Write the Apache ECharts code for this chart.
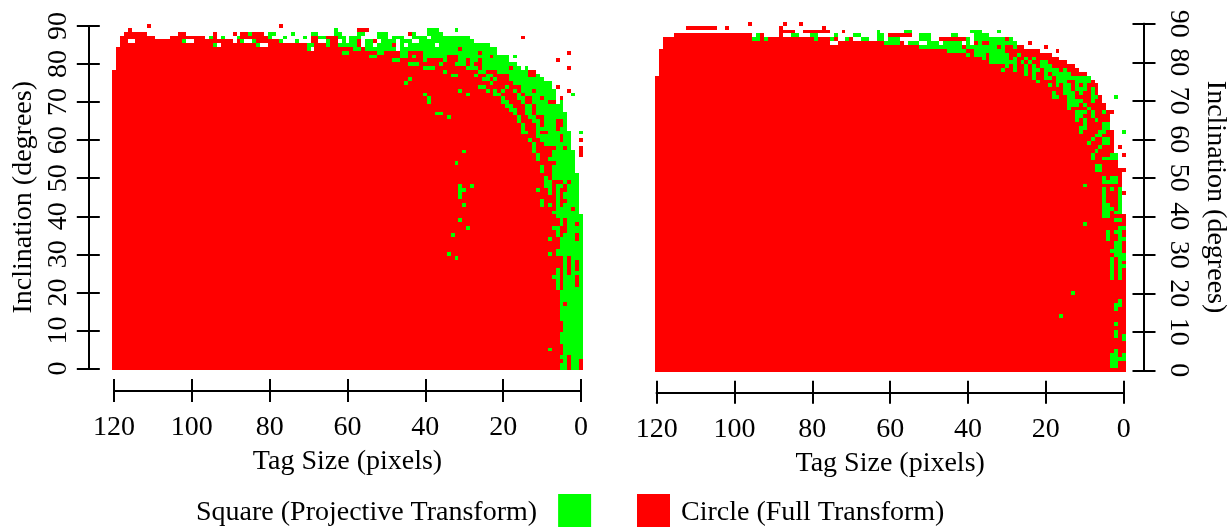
<!DOCTYPE html>
<html>
<head>
<meta charset="utf-8">
<style>html,body{margin:0;padding:0;background:#fff}#c{width:1231px;height:528px}</style>
<script src="https://cdn.jsdelivr.net/npm/echarts@6/dist/echarts.min.js"></script>
</head>
<body>
<div id="c"></div>
<script>
const xTicksMax = 120, yTicksMax = 90;
const squareName = 'Square (Projective Transform)';
const circleName = 'Circle (Full Transform)';

// winner per (inclination, tag size): solid red up to redEnd, green band to greenEnd, for inclination 0..84
const leftRedEnd = [6,6,6,6,5,5,5,6,6,6,5,5,5,6,6,6,6,6,6,6,6,7,7,7,7,7,7,5,5,5,7,7,6,6,6,7,7,7,6,6,7,8,7,7,7,7,9,9,10,10,10,8,8,8,7,9,8,8,9,10,11,12,12,12,12,13,14,15,15,15,13,13,15,16,16,18,19,19,27,30,33,32,41,41,59];
const leftGreenEnd = [0,0,0,0,0,0,0,0,0,0,0,0,0,0,0,0,0,0,0,0,0,0,0,0,0,0,0,0,0,0,0,0,0,0,0,0,0,0,0,0,0,1,1,1,1,1,1,1,1,1,1,1,2,2,2,2,2,2,3,3,3,3,3,4,4,4,4,4,5,5,9,7,7,7,8,8,10,11,14,16,17,19,19,22,22];
const leftStart = [[78,120],[84,119]];
// [incLow, incHigh, sizeHigh, sizeLow]
const leftGreen = [
[5,5,8,8],[24,24,7,7],[30,30,8,8],[29,29,32,32],[30,30,34,34],[35,35,33,33],[37,37,29,29],[39,39,31,31],[43,43,30,30],[45,48,31,31],[47,47,30,30],[48,48,28,28],[54,54,32,32],[57,57,30,30],
[34,34,8,8],[37,37,7,7],[43,44,10,10],[43,43,8,8],[47,47,11,11],[52,53,10,10],[55,56,11,11],[57,59,12,12],[60,60,13,13],[62,62,15,14],[63,64,15,15],[65,66,16,16],[62,62,0,0],
[66,66,34,34],[67,67,37,36],[67,67,17,17],[68,68,18,17],[69,69,19,18],[70,71,39,39],[70,70,20,19],[70,70,15,15],[70,70,5,5],[71,71,20,20],[71,71,16,15],
[72,72,40,40],[72,72,29,29],[72,72,22,21],[72,72,16,16],[72,72,2,2],[73,73,31,31],[73,73,24,24],[73,73,22,22],[73,73,20,20],[73,73,17,17],
[74,74,26,25],[74,74,19,19],[75,75,45,45],[75,75,23,23],[76,76,44,44],[76,76,25,24],[76,76,22,22],[77,77,33,32],[77,77,27,27],[77,77,24,23],[78,78,35,35],
[79,79,40,38],[79,79,14,14],[80,80,44,42],[80,80,36,36],[81,81,48,47],[81,81,40,40],[81,81,35,35],[82,82,54,53],[82,82,46,45],[82,82,43,43],[82,82,17,17],[83,83,61,60],[83,83,52,51],[83,83,46,45],[84,84,70,70],
[85,85,94,94],[85,85,83,83],[85,85,70,69],[85,85,65,65],[85,85,62,58],[85,85,55,54],[85,85,52,49],[85,85,46,46],[85,85,44,38],[85,85,36,25],[85,85,24,24],
[86,86,102,102],[86,86,87,87],[86,86,84,84],[86,86,77,77],[86,86,73,73],[86,86,65,65],[86,86,61,61],[86,86,59,58],[86,86,55,54],[86,86,51,48],[86,86,46,44],[86,86,41,28],
[87,87,95,95],[87,87,92,92],[87,87,88,88],[87,87,80,80],[87,87,76,76],[87,87,71,71],[87,87,67,66],[87,87,62,61],[87,87,59,57],[87,87,52,50],[87,87,48,46],[87,87,43,40],[87,87,38,29],
[88,88,85,85],[88,88,80,79],[88,88,74,74],[88,88,69,68],[88,88,63,62],[88,88,57,56],[88,88,52,50],[88,88,43,43],[88,88,39,36],
[89,89,63,63],[89,89,39,37],[89,89,32,32]
];
const leftRed = [
[0,3,3,3],[0,2,0,0],[2,2,5,5],[17,17,4,4],[21,26,5,5],[25,29,3,3],[26,28,1,1],[22,24,1,1],[35,35,5,5],[34,35,1,1],[36,37,5,4],[38,39,4,4],[38,38,1,1],[42,42,2,2],[43,43,5,5],[44,44,5,4],[45,45,5,5],[46,46,7,7],[46,46,5,5],[47,47,7,7],[47,47,5,4],[48,48,7,7],[48,48,4,4],[49,49,7,5],[49,49,3,3],[50,50,8,8],[56,58,0,0],[58,58,8,7],[58,58,4,4],[60,60,5,5],[60,60,0,0],[61,61,5,5],[62,62,10,9],[63,63,6,6],[64,65,10,10],[64,65,6,5],
[66,66,11,10],[67,69,12,12],[70,70,8,7],[70,71,14,13],[71,71,10,10],[71,71,5,5],[72,72,15,15],[73,73,12,12],[73,73,3,3],[74,74,6,6],[77,78,13,12],[78,78,24,22],[79,79,26,26],[79,79,18,18],[79,79,3,3],[80,80,29,29],[80,80,27,26],[81,81,29,29],[81,81,26,26],[81,81,6,6],[82,82,34,32],[82,82,23,23],[83,83,26,26],[83,83,3,3],[84,84,56,56],[84,84,31,31],
[85,85,118,95],[85,85,92,84],[85,85,80,71],[85,85,68,66],[85,85,64,63],[85,85,57,57],[85,85,48,48],
[86,86,118,117],[86,86,114,103],[86,86,99,90],[86,86,88,88],[86,86,83,78],[86,86,69,68],[86,86,64,63],[86,86,57,57],[86,86,53,53],
[87,87,118,110],[87,87,105,97],[87,87,94,94],[87,87,87,81],[87,87,69,68],[87,87,65,63],[87,87,15,15],
[88,88,117,112],[88,88,103,102],[88,88,94,94],[88,88,89,89],[88,88,87,86],[88,88,84,82],[88,88,44,44],
[89,89,116,116],[89,89,57,55],[90,90,111,111],[90,90,77,77]
];
const leftHoles = [[84,84,69,69],[84,84,47,47]];

const rightRedEnd = [0,0,0,0,0,0,0,0,0,0,0,0,0,0,0,0,0,0,0,0,0,0,0,0,0,0,0,0,0,0,0,0,0,0,0,0,0,0,0,0,0,1,1,1,1,1,1,1,1,1,1,1,0,2,2,2,2,3,3,3,3,3,3,4,4,4,4,4,5,5,6,6,7,7,7,8,9,10,12,13,15,17,19,22,26];
const rightStart = [[76,120],[83,119],[84,118]];
const rightGreen = [
[1,4,3,2],[5,5,2,2],[3,4,0,0],[3,3,1,1],[8,9,0,0],[9,10,2,2],[12,12,2,2],[14,14,16,16],[16,16,2,2],[17,17,2,1],[18,18,1,1],[20,20,13,13],[24,29,3,3],[24,28,1,1],[27,27,0,0],[29,30,1,0],[30,32,2,1],[31,31,3,3],
[32,33,2,1],[34,36,4,4],[36,36,2,2],[34,36,1,1],[34,34,0,0],[37,37,1,0],[38,38,10,10],[39,39,2,1],[40,47,5,5],[40,43,4,4],[42,42,3,3],[47,47,3,3],[41,47,1,1],[41,41,2,2],[48,48,10,10],[49,50,5,5],[49,50,3,2],[49,49,4,4],[52,53,7,6],[55,56,8,8],[55,56,3,2],[55,55,5,4],[57,57,7,7],[58,58,6,6],[59,59,9,9],[59,60,5,4],[60,60,8,8],[61,61,7,6],[62,62,6,5],[62,62,0,0],[63,63,11,11],[63,64,5,4],[64,65,10,10],[65,65,7,7],
[61,61,6,6],[62,62,11,11],[63,64,10,10],[65,65,12,12],[66,66,12,11],[66,66,8,8],[67,67,12,10],[67,67,8,8],[67,67,5,5],[68,68,14,14],[68,68,9,9],[69,69,14,12],[69,69,10,10],[70,70,14,11],[70,70,8,8],[71,71,18,17],[71,71,14,13],[71,71,8,7],[71,71,2,2],[72,72,18,18],[72,72,15,13],[72,72,11,11],[72,72,8,8],[73,73,15,14],[73,73,12,12],[73,73,11,10],[73,73,8,8],[74,74,19,19],[74,74,17,17],[74,74,15,14],[74,74,12,12],[74,74,10,10],[75,75,22,22],[75,75,17,15],[75,75,12,9],[76,76,23,23],[76,76,20,19],[76,76,17,9],[77,77,25,25],[77,77,23,23],[77,77,20,20],[77,77,18,14],[78,78,31,31],[78,78,28,28],[78,78,25,25],[78,78,23,22],[78,78,20,17],[78,78,15,15],[79,79,30,30],[79,79,28,28],[79,79,25,25],[79,79,23,23],[79,79,21,19],[80,80,34,28],[80,80,26,26],[80,80,24,24],[80,80,21,20],[81,81,36,36],[81,81,34,30],[81,81,28,28],[81,81,25,25],[81,81,23,23],[82,82,40,40],[82,82,38,36],[82,82,34,30],[82,82,27,27],[83,83,45,41],[83,83,38,31],[84,84,52,42],[84,84,40,33],[84,84,31,31],[84,84,28,28],
[85,85,79,79],[85,85,66,66],[85,85,61,58],[85,85,55,53],[85,85,50,49],[85,85,48,48],[85,85,46,42],[85,85,40,40],[85,85,37,37],[85,85,34,28],
[86,86,95,94],[86,86,92,92],[86,86,79,79],[86,86,75,75],[86,86,71,71],[86,86,67,66],[86,86,63,62],[86,86,60,58],[86,86,52,50],[86,86,40,40],[86,86,38,31],[86,86,29,29],
[87,87,94,94],[87,87,85,84],[87,87,80,79],[87,87,74,74],[87,87,69,68],[87,87,63,62],[87,87,52,50],[87,87,44,43],[87,87,38,35],
[88,88,63,63],[88,88,56,55],[88,88,39,37],[88,88,32,32]
];
const rightRed = [
[46,46,0,0],[56,56,0,0],[58,58,1,1],[67,67,3,3],[83,83,17,17],[84,84,20,20],
[85,85,118,76],[85,85,73,62],[85,85,57,57],[85,85,38,38],[85,85,36,35],[85,85,24,24],
[86,86,118,96],[86,86,93,93],[86,86,91,80],[86,86,78,76],[86,86,74,74],[86,86,70,70],[86,86,47,41],[86,86,30,30],
[87,87,115,96],[87,87,93,93],[87,87,88,88],[87,87,60,55],
[88,88,88,85],[88,88,82,76],[88,88,72,72],
[89,89,112,105],[89,89,102,102],[89,89,88,88],[89,89,77,77],
[90,90,96,96],[90,90,87,87],[90,90,83,83]
];
const rightHoles = [];

function buildRuns(steps, redEnd, greenEnd, greens, reds, holes) {
  const grid = [];
  for (let d = 0; d <= yTicksMax; d++) grid.push(new Array(xTicksMax + 1).fill(0));
  redEnd.forEach(function (end, d) {
    const from = steps.find(function (st) { return d <= st[0]; })[1];
    for (let s = from; s >= end; s--) grid[d][s] = 1;
    for (let s = end - 1; s >= greenEnd[d]; s--) grid[d][s] = 2;
  });
  const paint = function (list, v) {
    list.forEach(function (r) {
      for (let d = r[0]; d <= r[1]; d++) for (let s = r[2]; s >= r[3]; s--) grid[d][s] = v;
    });
  };
  paint(greens, 2); paint(reds, 1); paint(holes, 0);
  const out = { 1: [], 2: [] };
  grid.forEach(function (row, d) {
    let s = xTicksMax;
    while (s >= 0) {
      const v = row[s]; let e = s;
      while (e - 1 >= 0 && row[e - 1] === v) e--;
      if (v) out[v].push([d, s, e]);
      s = e - 1;
    }
  });
  return out;
}
const leftRuns = buildRuns(leftStart, leftRedEnd, leftGreenEnd, leftGreen, leftRed, leftHoles);
const rightRuns = buildRuns(rightStart, rightRedEnd, rightRedEnd, rightGreen, rightRed, rightHoles);

function renderCell(params, api) {
  const a = api.coord([api.value(1) + 0.5, api.value(0) + 0.5]);
  const b = api.coord([api.value(2) - 0.5, api.value(0) - 0.5]);
  const x0 = Math.round(Math.min(a[0], b[0])), x1 = Math.round(Math.max(a[0], b[0]));
  const y0 = Math.round(Math.min(a[1], b[1])), y1 = Math.round(Math.max(a[1], b[1]));
  return { type: 'rect', shape: { x: x0, y: y0, width: x1 - x0, height: y1 - y0 }, style: { fill: api.visual('color') } };
}
function cellSeries(name, color, data, axisIndex, z) {
  return { type: 'custom', name: name, xAxisIndex: axisIndex, yAxisIndex: axisIndex, data: data, renderItem: renderCell,
    encode: { x: [1, 2], y: 0 }, itemStyle: { color: color }, clip: false, silent: true, animation: false, z: z };
}

const FONT = 'Liberation Serif';
const lineStyle = { color: '#000', width: 2 };
const labelStyle = { color: '#000', fontFamily: FONT, fontSize: 28 };
function xAxis(gridIndex, inside, showText) {
  return { type: 'value', gridIndex: gridIndex, min: 0, max: xTicksMax, interval: 20, inverse: true, position: 'bottom', offset: 22,
    name: showText ? 'Tag Size (pixels)' : '', nameLocation: 'middle', nameGap: 57, nameMoveOverlap: false, nameTextStyle: labelStyle,
    axisLine: { show: true, onZero: false, lineStyle: lineStyle }, axisTick: { show: true, inside: inside, length: 11.5, lineStyle: lineStyle },
    axisLabel: { show: showText, color: '#000', fontFamily: FONT, fontSize: 28, margin: 23, hideOverlap: false, showMinLabel: true, showMaxLabel: true },
    splitLine: { show: false } };
}
function yAxis(gridIndex, inside, showText, right) {
  return { type: 'value', gridIndex: gridIndex, min: 0, max: yTicksMax, interval: 10, position: right ? 'right' : 'left', offset: right ? 20.3 : 25.7,
    name: showText ? 'Inclination (degrees)' : '', nameLocation: 'middle', nameGap: right ? 57 : 51, nameMoveOverlap: false, nameRotate: right ? -90 : 90, nameTextStyle: labelStyle,
    axisLine: { show: true, onZero: false, lineStyle: lineStyle }, axisTick: { show: true, inside: inside, length: 11.5, lineStyle: lineStyle },
    axisLabel: { show: showText, color: '#000', fontFamily: FONT, fontSize: 28, margin: right ? 20 : 16, rotate: right ? -90 : 90, hideOverlap: false, showMinLabel: true, showMaxLabel: true },
    splitLine: { show: false } };
}
function legendText(pad) {
  return { color: '#000', fontFamily: FONT, fontSize: 28,
    rich: { a: { color: '#000', fontFamily: FONT, fontSize: 28, lineHeight: 28, padding: pad } } };
}

const chart = echarts.init(document.getElementById('c'), null, { renderer: 'canvas' });
chart.setOption({
  animation: false,
  backgroundColor: '#fff',
  textStyle: { fontFamily: FONT },
  grid: [
    { left: 114, top: 26, width: 467, height: 342.5, outerBoundsMode: 'none', containLabel: false },
    { left: 656.7, top: 23.8, width: 467, height: 346.5, outerBoundsMode: 'none', containLabel: false }
  ],
  xAxis: [xAxis(0, false, true), xAxis(0, true, false), xAxis(1, false, true), xAxis(1, true, false)],
  yAxis: [yAxis(0, false, true, false), yAxis(0, true, false, false), yAxis(1, false, true, true), yAxis(1, true, false, true)],
  legend: [
    { data: [squareName], left: 196, top: 494, align: 'right', icon: 'rect', itemWidth: 33, itemHeight: 33, padding: 0,
      formatter: function (n) { return '{a|' + n + '}'; }, textStyle: legendText([5, 16, 0, 0]) },
    { data: [circleName], left: 637, top: 494, align: 'left', icon: 'rect', itemWidth: 33, itemHeight: 33, padding: 0,
      formatter: function (n) { return '{a|' + n + '}'; }, textStyle: legendText([5, 0, 0, 6]) }
  ],
  series: [
    cellSeries(circleName, '#ff0000', leftRuns[1], 0, 2),
    cellSeries(squareName, '#00ff00', leftRuns[2], 0, 2),
    cellSeries(circleName, '#ff0000', rightRuns[1], 2, 2),
    cellSeries(squareName, '#00ff00', rightRuns[2], 2, 2)
  ]
});
</script>
</body>
</html>
